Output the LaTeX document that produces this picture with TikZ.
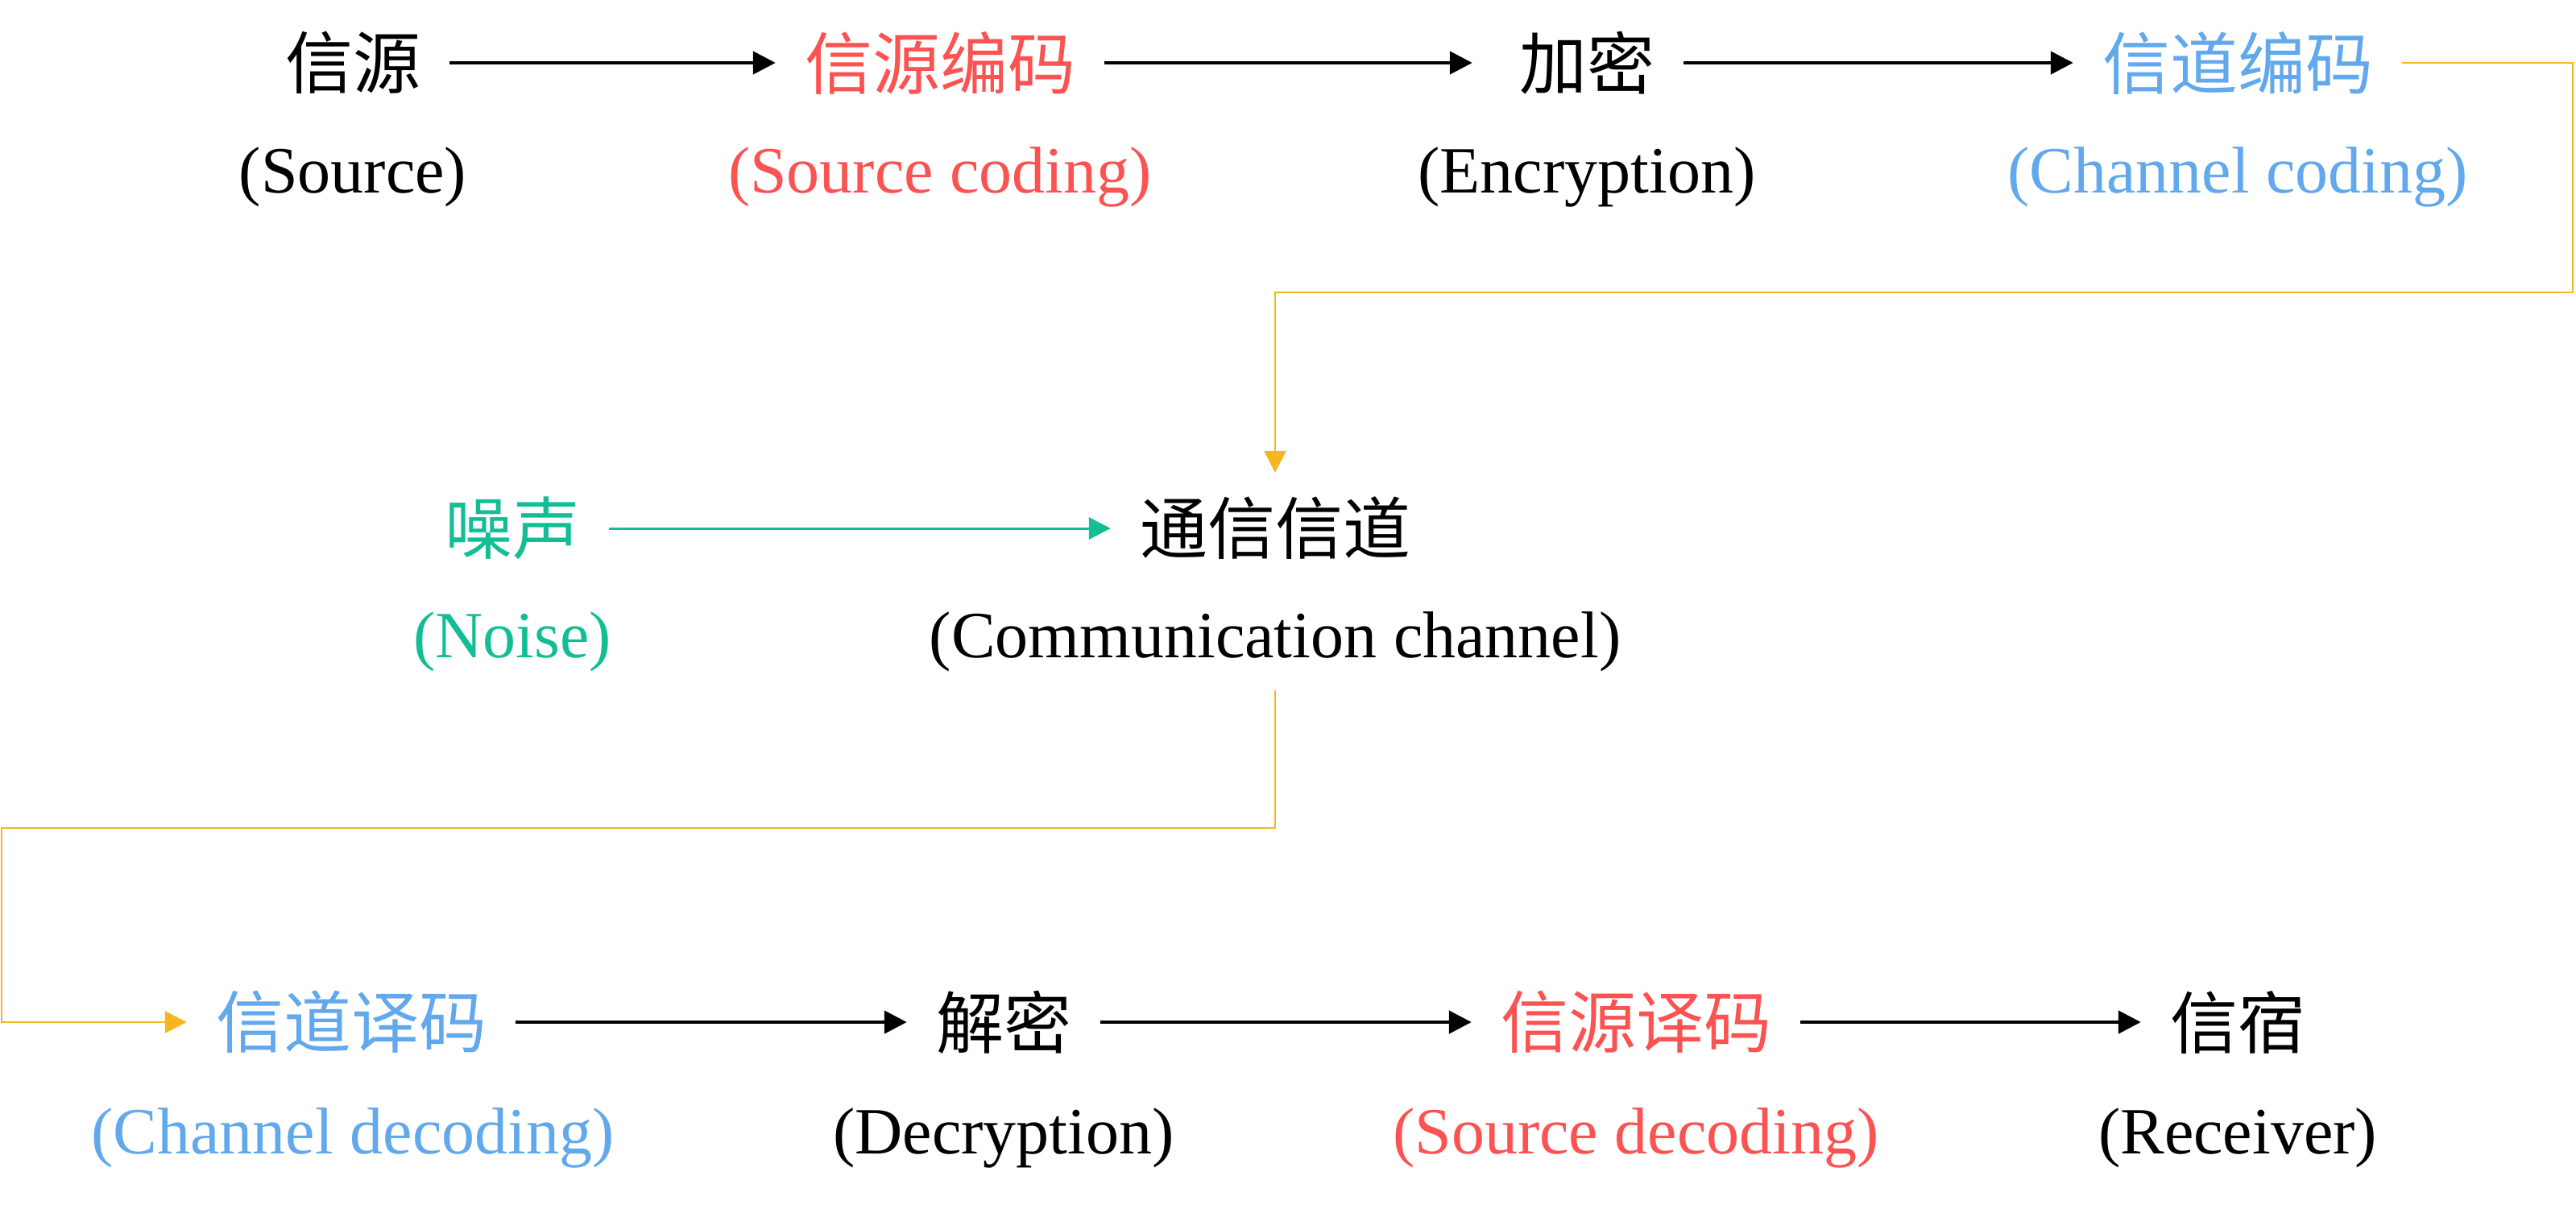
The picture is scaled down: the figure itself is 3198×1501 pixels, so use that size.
\documentclass[tikz,border=0pt]{standalone}
\usepackage{fontspec}
\setmainfont{Liberation Serif}
\newfontfamily\cjk{Noto Sans CJK SC}
\usetikzlibrary{arrows.meta}
\definecolor{cred}{HTML}{FB5252}
\definecolor{cblue}{HTML}{62A8EC}
\definecolor{cgreen}{HTML}{13BD95}
\definecolor{corange}{HTML}{F5B720}
\begin{document}
\begin{tikzpicture}[x=1pt,y=-1pt,
  zh/.style={inner xsep=36pt, inner ysep=0pt, font=\cjk\fontsize{84}{100}\selectfont, anchor=center},
  en/.style={inner sep=0pt, font=\fontsize{82}{98}\selectfont, anchor=center},
  flow/.style={-{Triangle[width=28pt,length=28pt]}, line width=4.5pt, black},
  noiseflow/.style={-{Triangle[width=27pt,length=27pt]}, line width=3pt, cgreen},
  chanflow/.style={-{Triangle[width=27pt,length=27pt]}, line width=2.5pt, corange}]
\useasboundingbox (0,0) rectangle (3198,1501);
% row 1
\node[zh] (src) at (438,78) {信源};
\node[en] (srcE) at (438,220) {(Source)};
\node[zh,text=cred] (senc) at (1167,78) {信源编码};
\node[en,text=cred] (sencE) at (1167,220) {(Source coding)};
\node[zh] (enc) at (1970,78) {加密};
\node[en] (encE) at (1970,220) {(Encryption)};
\node[zh,text=cblue] (cenc) at (2778,78) {信道编码};
\node[en,text=cblue] (cencE) at (2778,220) {(Channel coding)};
% row 2
\node[zh,text=cgreen] (noise) at (636,656) {噪声};
\node[en,text=cgreen] (noiseE) at (636,797) {(Noise)};
\node[zh] (chan) at (1583,656) {通信信道};
\node[en] (chanE) at (1583,797) {(Communication channel)};
% row 3
\node[zh,text=cblue] (cdec) at (436,1269) {信道译码};
\node[en,text=cblue] (cdecE) at (438,1413) {(Channel decoding)};
\node[zh] (dec) at (1246,1269) {解密};
\node[en] (decE) at (1246,1413) {(Decryption)};
\node[zh,text=cred] (sdec) at (2031,1269) {信源译码};
\node[en,text=cred] (sdecE) at (2031,1413) {(Source decoding)};
\node[zh] (recv) at (2778,1269) {信宿};
\node[en] (recvE) at (2778,1413) {(Receiver)};
% corners
\coordinate (c1) at (3194,363);
\coordinate (c2) at (2,1028);
% connectors
\draw[flow] (src) -- (senc);
\draw[flow, shorten >=22pt] (senc) -- (enc);
\draw[flow] (enc) -- (cenc);
\draw[noiseflow] (noise) -- (chan);
\draw[flow] (cdec) -- (dec);
\draw[flow] (dec) -- (sdec);
\draw[flow] (sdec) -- (recv);
\draw[chanflow, shorten >=30pt] (cenc.east) -| (c1) -| (chan.north);
\draw[chanflow, shorten <=23pt] (chanE.south) |- (c2) |- (cdec.west);
\end{tikzpicture}
\end{document}
